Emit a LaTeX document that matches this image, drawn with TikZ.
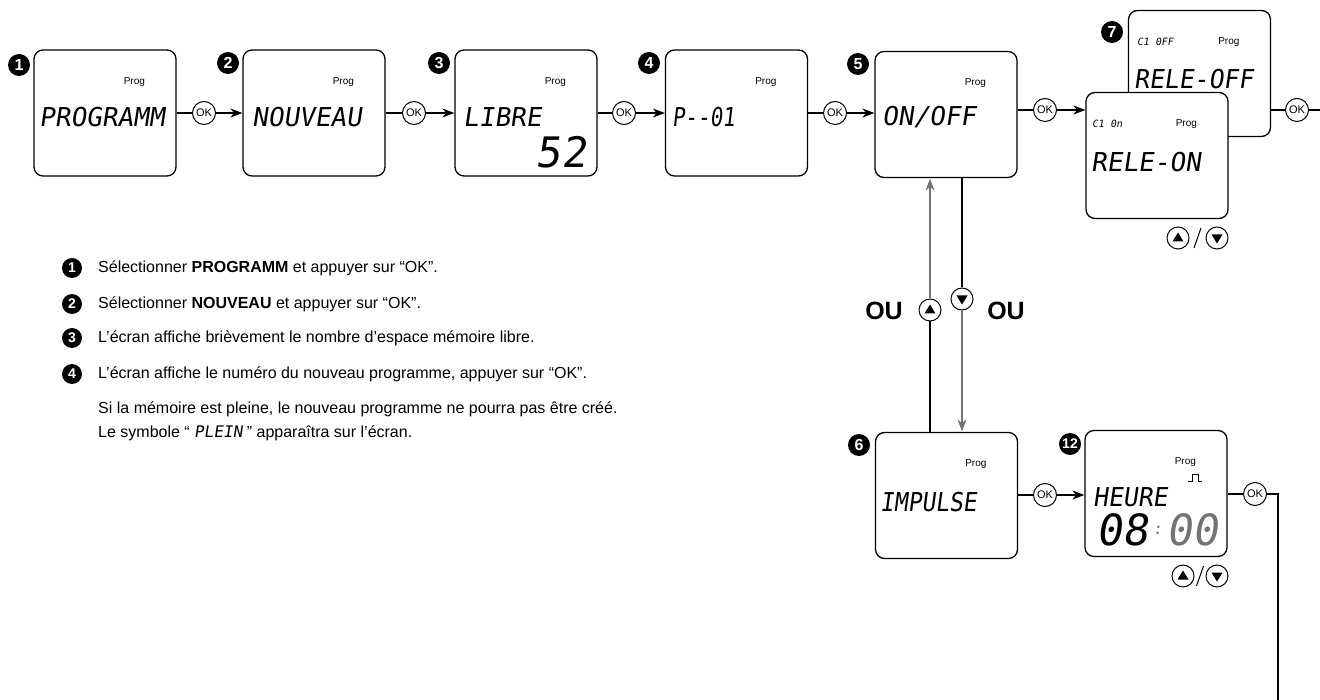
\documentclass[tikz,border=0pt]{standalone}
\usepackage{fontspec}
\setmainfont{Liberation Sans}
\newfontfamily\lcd[FakeSlant=0.15]{DejaVu Sans Mono}
\usetikzlibrary{arrows.meta,calc}
\newcommand\triup[1]{\fill ($(#1.center)+(0,-5.5)$) -- ($(#1.center)+(5.5,3.5)$) -- ($(#1.center)+(-5.5,3.5)$) -- cycle;}
\newcommand\tridn[1]{\fill ($(#1.center)+(0,5.5)$) -- ($(#1.center)+(5.5,-3.5)$) -- ($(#1.center)+(-5.5,-3.5)$) -- cycle;}
\begin{document}
\begin{tikzpicture}[x=1pt,y=-1pt,
  scr/.style={draw, line width=1.3pt, rounded corners=9pt, minimum width=142pt, minimum height=126pt, inner sep=0pt, fill=white},
  okc/.style={draw, circle, line width=1pt, minimum size=23pt, inner sep=0pt, font=\fontsize{11}{11}\selectfont, fill=white},
  badge/.style={circle, fill=black, minimum size=22pt, inner sep=0pt, text=white, font=\bfseries\fontsize{16}{16}\selectfont},
  sbadge/.style={circle, fill=black, minimum size=20pt, inner sep=0pt, text=white, font=\bfseries\fontsize{14}{14}\selectfont},
  link/.style={line width=2pt},
  arr/.style={line width=1.2pt, -{Stealth[length=12pt,width=9pt]}},
  garr/.style={line width=1.2pt, draw=black!55, -{Stealth[length=12pt,width=9pt]}, shorten >=0.5pt},
  prog/.style={font=\fontsize{10}{10}\selectfont, inner sep=0pt, anchor=base},
  lcdt/.style={font=\lcd\fontsize{26}{26}\selectfont, inner sep=0pt, anchor=west},
  lcds/.style={font=\lcd\fontsize{10}{10}\selectfont, inner sep=0pt, anchor=base west},
  para/.style={font=\fontsize{16}{19}\selectfont, inner sep=0pt, anchor=west},
  ou/.style={font=\bfseries\fontsize{25}{25}\selectfont, inner sep=0pt},
  btn/.style={draw, circle, line width=1pt, minimum size=22pt, inner sep=0pt, fill=white},
]
\useasboundingbox[fill=white] (0,0) rectangle (1320,700);

% ---- screens row 1
\node[scr] (b1) at (105,113) {};
\node[scr] (b2) at (314,113) {};
\node[scr] (b3) at (526,113) {};
\node[scr] (b4) at (736.5,113) {};
\node[scr] (b5) at (946,114.5) {};
\node[scr] (b7b) at (1199.5,73.5) {};
\node[scr] (b7f) at (1157,155.5) {};
% ---- screens row 2
\node[scr] (b6) at (946.5,495.5) {};
\node[scr] (b12) at (1156,493.5) {};

% ---- Prog labels
\foreach \b in {b1,b2,b3,b4,b5,b7b,b7f,b6,b12}
  \node[prog] (p\b) at ($(\b.north west)+(101,35)$) {Prog};

% ---- LCD texts
\node[lcdt] (t1) at (39,117) {PROGRAMM};
\node[lcdt] (t2) at (252,117) {NOUVEAU};
\node[lcdt] (t3) at (463,117) {LIBRE};
\node[font=\lcd\fontsize{42}{42}\selectfont, inner sep=0pt] (t3b) at (561,152) {52};
\node[lcdt] (t4) at (672,117) {\scalebox{0.8}[1]{P--01}};
\node[lcdt] (t5) at (882,117) {ON/OFF};
\node[lcds] (s7b) at (1137,46) {C1 0FF};
\node[lcdt] (t7b) at (1134,79) {\scalebox{0.95}[1]{RELE-OFF}};
\node[lcds] (s7f) at (1092,128) {C1 0n};
\node[lcdt] (t7f) at (1091,162) {RELE-ON};
\node[lcdt] (t6) at (880,502) {\scalebox{0.88}[1]{IMPULSE}};
\node[lcdt] (t12) at (1093,497) {\scalebox{0.95}[1]{HEURE}};
\node[font=\lcd\fontsize{43}{43}\selectfont, inner sep=0pt, anchor=west] (h1) at (1096,530) {08};
\node[font=\lcd\fontsize{16}{16}\selectfont, inner sep=0pt, text=black!55] (h2) at (1157.5,530) {:};
\node[font=\lcd\fontsize{43}{43}\selectfont, inner sep=0pt, anchor=west, text=black!55] (h3) at (1166,530) {00};
\draw[line width=0.9pt] (1188,481) -- (1192,481) -- (1192,474) -- (1198,474) -- (1198,481) -- (1202,481);

% ---- badges
\node[badge] (n1) at (19,65) {1};
\node[badge] (n2) at (228,63) {2};
\node[badge] (n3) at (439,63) {3};
\node[badge] (n4) at (649,63) {4};
\node[badge] (n5) at (858,64) {5};
\node[badge] (n7) at (1112,32) {7};
\node[badge] (n6) at (859,445) {6};
\node[badge, font=\bfseries\fontsize{14}{14}\selectfont] (n12) at (1070,444) {12};

% ---- OK circles and connectors, row 1
\node[okc] (ok1) at (204,113) {OK};
\node[okc] (ok2) at (414,113) {OK};
\node[okc] (ok3) at (624,113) {OK};
\node[okc] (ok4) at (835,113) {OK};
\node[okc] (ok5) at (1045,110) {OK};
\node[okc] (ok7) at (1297,110) {OK};
\coordinate (e7) at (1320,110);
\draw[link] (b1.east) -- (ok1.west);
\draw[arr] (ok1.east) -- (b2.west);
\draw[link] (b2.east) -- (ok2.west);
\draw[arr] (ok2.east) -- (b3.west);
\draw[link] (b3.east) -- (ok3.west);
\draw[arr] (ok3.east) -- (b4.west);
\draw[link] (b4.east) -- (ok4.west);
\draw[arr] (ok4.east) -- (b5.west |- ok4);
\draw[link] (b5.east |- ok5) -- (ok5.west);
\draw[arr] (ok5.east) -- (ok5.east -| b7f.west);
\draw[link] (b7b.east |- ok7) -- (ok7.west);
\draw[link] (ok7.east) -- (e7);

% ---- row 2
\node[okc] (ok6) at (1045,495) {OK};
\node[okc] (ok12) at (1255,494) {OK};
\coordinate (c12) at (1278,494);
\coordinate (e12) at (1278,700);
\draw[link] (b6.east |- ok6) -- (ok6.west);
\draw[arr] (ok6.east) -- (ok6.east -| b12.west);
\draw[link] (b12.east |- ok12) -- (ok12.west);
\draw[link] (ok12.east) -- (c12) -- (e12);

% ---- up / down between ON/OFF and IMPULSE
\node[btn] (up0) at (930,310) {};
\node[btn] (dn0) at (962,299) {};
\triup{up0}
\tridn{dn0}
\draw[link] (up0 |- b6.north) -- (up0.south);
\draw[garr] (up0.north) -- (up0 |- b5.south);
\draw[link] (dn0 |- b5.south) -- (dn0.north);
\draw[garr] (dn0.south) -- (dn0 |- b6.north);
\node[ou] (ou1) at (884,311) {OU};
\node[ou] (ou2) at (1006,311) {OU};

% ---- up/down buttons under screens
\node[btn] (up1) at (1178,238) {};
\node[btn] (dn1) at (1217,238) {};
\triup{up1}
\tridn{dn1}
\draw[line width=1pt] ($(up1)!0.5!(dn1)+(-3.5,10)$) -- ($(up1)!0.5!(dn1)+(3.5,-10)$);
\node[btn] (up2) at (1183,576) {};
\node[btn] (dn2) at (1217,576) {};
\triup{up2}
\tridn{dn2}
\draw[line width=1pt] ($(up2)!0.5!(dn2)+(-3.5,10)$) -- ($(up2)!0.5!(dn2)+(3.5,-10)$);

% ---- explanation text
\node[sbadge] (m1) at (72,268) {1};
\node[sbadge] (m2) at (72,304) {2};
\node[sbadge] (m3) at (72,338) {3};
\node[sbadge] (m4) at (72,374) {4};
\node[para] (l1) at (98,268) {Sélectionner \textbf{PROGRAMM} et appuyer sur “OK”.};
\node[para] (l2) at (98,304) {Sélectionner \textbf{NOUVEAU} et appuyer sur “OK”.};
\node[para] (l3) at (98,338) {L’écran affiche brièvement le nombre d’espace mémoire libre.};
\node[para] (l4) at (98,374) {L’écran affiche le numéro du nouveau programme, appuyer sur “OK”.};
\node[para] (l5) at (98,409) {Si la mémoire est pleine, le nouveau programme ne pourra pas être créé.};
\node[para] (l6) at (98,433) {Le symbole “ {\lcd PLEIN} ” apparaîtra sur l’écran.};
\end{tikzpicture}
\end{document}
